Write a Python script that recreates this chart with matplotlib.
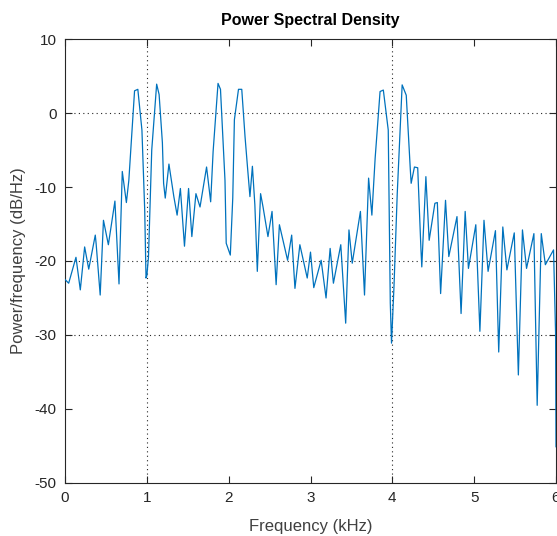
import matplotlib
matplotlib.use("Agg")
import matplotlib.pyplot as plt

freq_khz = [0.00, 0.045, 0.134, 0.187, 0.24, 0.29, 0.37, 0.38, 0.43, 0.47, 0.53, 0.61, 0.66, 0.70,
            0.75, 0.78, 0.85, 0.89, 0.94, 0.974, 0.99, 1.00, 1.02, 1.06, 1.12, 1.15, 1.19, 1.205,
            1.225, 1.27, 1.33, 1.37, 1.41, 1.46, 1.51, 1.55, 1.60, 1.65, 1.73, 1.78, 1.81, 1.87,
            1.90, 1.955, 1.97, 2.02, 2.05, 2.07, 2.12, 2.16, 2.20, 2.23, 2.26, 2.29, 2.32, 2.35,
            2.39, 2.42, 2.48, 2.53, 2.58, 2.62, 2.72, 2.77, 2.81, 2.87, 2.96, 3.00, 3.04, 3.13,
            3.19, 3.24, 3.28, 3.37, 3.43, 3.47, 3.51, 3.61, 3.66, 3.71, 3.75, 3.79, 3.85, 3.89,
            3.95, 3.975, 3.99, 4.02, 4.06, 4.12, 4.17, 4.22, 4.23, 4.27, 4.31, 4.35, 4.36, 4.41,
            4.45, 4.52, 4.55, 4.59, 4.65, 4.69, 4.79, 4.84, 4.89, 4.93, 5.02, 5.07, 5.12, 5.17,
            5.26, 5.30, 5.35, 5.40, 5.49, 5.54, 5.59, 5.64, 5.73, 5.77, 5.82, 5.87, 5.97, 5.995,
            6.00]
psd_db = [-22.5, -23.0, -19.5, -23.9, -18.1, -21.1, -16.5, -17.6, -24.6, -14.5, -17.8, -11.9, -23.1, -7.9,
          -12.1, -9.1, 3.0, 3.2, -2.3, -13.1, -22.3, -22.0, -19.5, -5.0, 3.9, 2.5, -4.0, -9.5,
          -11.5, -6.9, -11.3, -13.8, -10.2, -18.0, -10.2, -16.7, -10.9, -12.7, -7.3, -12.0, -5.2, 4.0,
          3.2, -9.1, -17.6, -19.2, -11.5, -0.9, 3.2, 3.2, -3.2, -7.3, -11.3, -7.2, -12.4, -21.4,
          -10.9, -12.7, -16.7, -13.3, -23.2, -15.1, -19.9, -16.5, -23.7, -17.8, -22.3, -18.8, -23.6, -19.9,
          -25.0, -18.3, -23.0, -17.8, -28.4, -15.8, -20.3, -13.3, -24.6, -8.8, -13.8, -6.1, 2.9, 3.1,
          -2.3, -25.7, -31.1, -23.5, -10.9, 3.8, 2.4, -7.7, -9.5, -7.3, -7.4, -18.5, -20.8, -8.6,
          -17.2, -12.2, -12.1, -24.4, -11.8, -19.4, -14.0, -27.1, -13.3, -21.0, -15.1, -29.5, -14.5, -21.4,
          -15.9, -32.3, -15.4, -21.2, -16.2, -35.4, -15.8, -21.0, -16.3, -39.5, -16.3, -20.5, -18.5, -29.8,
          -45.1]

x_ticks = [0, 1, 2, 3, 4, 5, 6]
y_ticks = [-50, -40, -30, -20, -10, 0, 10]
grid_x = [1, 4]
grid_y = [0, -20, -30]

plt.rcParams['font.family'] = ['Liberation Sans', 'DejaVu Sans']
plt.rcParams['axes.unicode_minus'] = False

fig = plt.figure(figsize=(5.57, 5.36), dpi=100)
ax = fig.add_axes([65/557, 1 - 483/536, (556 - 65)/557, (483 - 39)/536])

for gx in grid_x:
    ax.axvline(gx, color='#262626', linestyle=(0, (1, 3)), linewidth=0.8, zorder=1)
for gy in grid_y:
    ax.axhline(gy, color='#262626', linestyle=(0, (1, 3)), linewidth=0.8, zorder=1)

ax.plot(freq_khz, psd_db, color='#0072BD', linewidth=0.9, zorder=3)

ax.set_xlim(0, 6)
ax.set_ylim(-50, 10)
ax.set_xticks(x_ticks)
ax.set_yticks(y_ticks)
ax.tick_params(direction='in', length=5, width=0.8, top=True, right=True,
               labelsize=11, colors='#262626', pad=6)
for s in ax.spines.values():
    s.set_color('#262626')
    s.set_linewidth(0.8)

ax.set_xlabel('Frequency (kHz)', fontsize=12, color='#404040', labelpad=10)
ax.set_ylabel('Power/frequency (dB/Hz)', fontsize=12, color='#404040', labelpad=6)
ax.set_title('Power Spectral Density', fontsize=11.5, fontweight='bold', color='black', pad=10)

fig.savefig('out.png', dpi=100)
